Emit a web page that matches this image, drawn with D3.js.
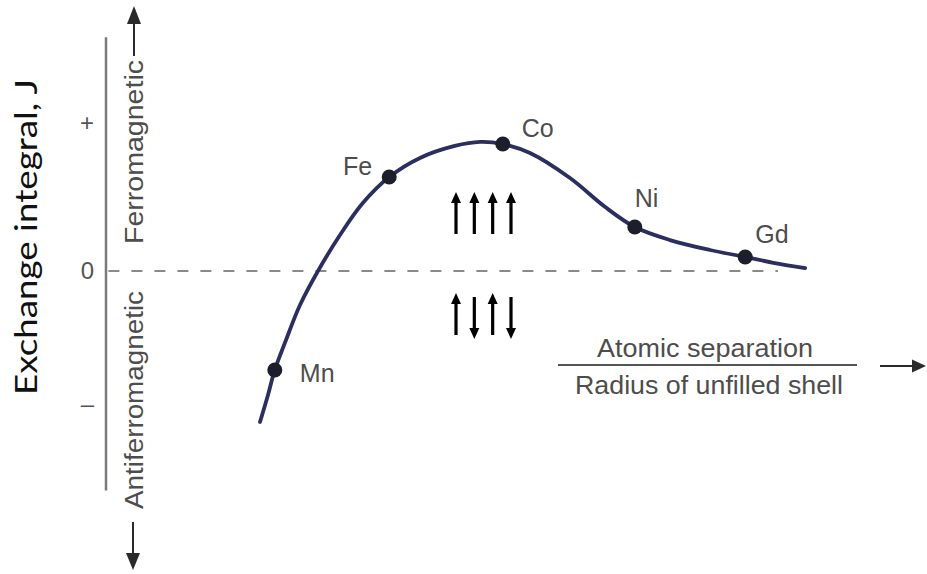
<!DOCTYPE html>
<html>
<head>
<meta charset="utf-8">
<script src="https://cdn.jsdelivr.net/npm/d3@7"></script>
<style>
  html, body { margin: 0; padding: 0; background: #fff; }
  svg { display: block; }
</style>
</head>
<body>
<div id="chart"></div>
<script>
// element markers along the curve (x = relative separation units, J = exchange integral)
const elements = ['Mn', 'Fe', 'Co', 'Ni', 'Gd'];
const elementSep = [21.1, 35.4, 49.6, 66.1, 79.9];
const elementJ = [-0.744, 0.635, 0.858, 0.297, 0.095];

// the Bethe-Slater curve
const curveSep = [19.25, 20.25, 21.1, 22.5, 24.25, 26.5, 29.25, 32.1, 35.4, 39.25, 43.6, 46.75,
                  49.6, 53, 58, 62.4, 66.1, 70.5, 75.5, 79.9, 83.6, 87.4];
const curveJ = [-1.135, -0.932, -0.744, -0.519, -0.256, 0, 0.243, 0.459, 0.635, 0.764, 0.845, 0.872,
                0.858, 0.797, 0.628, 0.432, 0.297, 0.209, 0.142, 0.095, 0.054, 0.020];

// y tick labels
const yTickValues = [1, 0, -1];
const yTickLabels = ['+', '0', '\u2013'];

// spin pictures: +1 up, -1 down
const spinsParallel = [1, 1, 1, 1];
const spinsAnti = [1, -1, 1, -1];

const svgWidth = 927,
      svgHeight = 574;

const svg = d3.select('#chart')
              .append('svg')
              .attr('width', svgWidth)
              .attr('height', svgHeight);

const x = d3.scaleLinear()
            .domain([0, 100])
            .range([106, 906]);

// J axis is not quite symmetric in the picture
const y = d3.scaleLinear()
            .domain([-1, 0, 1])
            .range([404, 271, 123]);

const textColor = '#4d4d4d';
const labelFont = '"Liberation Sans", Arial, Helvetica, sans-serif';

// dashed zero line
svg.append('line')
   .attr('x1', x(0.3))
   .attr('x2', x(84))
   .attr('y1', y(0))
   .attr('y2', y(0))
   .attr('stroke', '#8a8a8a')
   .attr('stroke-width', 2.2)
   .attr('stroke-dasharray', '11,12');

// y axis: labels only, the long line drawn by hand
const yAxis = d3.axisLeft(y)
                .tickValues(yTickValues)
                .tickFormat((d, i) => yTickLabels[i])
                .tickSize(0)
                .tickPadding(12);

const gy = svg.append('g')
              .attr('transform', `translate(${x(0)},0)`)
              .call(yAxis);
gy.select('.domain').remove();
gy.selectAll('text')
  .attr('fill', '#555')
  .style('font-family', labelFont)
  .style('font-size', '24px');

svg.append('line')
   .attr('x1', x(0))
   .attr('x2', x(0))
   .attr('y1', y(1.58))
   .attr('y2', y(-1.65))
   .attr('stroke', '#7a7a7a')
   .attr('stroke-width', 2.5);

// Ferromagnetic / Antiferromagnetic labels with arrows
const sideX = 143;
svg.append('text')
   .attr('transform', `translate(${sideX},152) rotate(-90)`)
   .attr('text-anchor', 'middle')
   .attr('textLength', 184)
   .attr('lengthAdjust', 'spacingAndGlyphs')
   .attr('fill', textColor)
   .style('font-family', labelFont)
   .style('font-size', '25px')
   .text('Ferromagnetic');

svg.append('text')
   .attr('transform', `translate(${sideX},400) rotate(-90)`)
   .attr('text-anchor', 'middle')
   .attr('textLength', 218)
   .attr('lengthAdjust', 'spacingAndGlyphs')
   .attr('fill', textColor)
   .style('font-family', labelFont)
   .style('font-size', '25px')
   .text('Antiferromagnetic');

const arrowColor = '#2a2a2a';
const ax = 134;
svg.append('line')
   .attr('x1', ax).attr('x2', ax)
   .attr('y1', 56).attr('y2', 22)
   .attr('stroke', arrowColor).attr('stroke-width', 2);
svg.append('path')
   .attr('d', `M${ax},6 L${ax - 7},24 L${ax + 7},24 Z`)
   .attr('fill', arrowColor);

svg.append('line')
   .attr('x1', ax - 1).attr('x2', ax - 1)
   .attr('y1', 522).attr('y2', 556)
   .attr('stroke', arrowColor).attr('stroke-width', 2);
svg.append('path')
   .attr('d', `M${ax - 1},570 L${ax - 8},553 L${ax + 6},553 Z`)
   .attr('fill', arrowColor);

// main y title
svg.append('text')
   .attr('transform', 'translate(37,237) rotate(-90)')
   .attr('text-anchor', 'middle')
   .attr('textLength', 316)
   .attr('lengthAdjust', 'spacingAndGlyphs')
   .attr('fill', '#111')
   .style('font-family', 'Lato, "Open Sans", sans-serif')
   .style('font-size', '31px')
   .text('Exchange integral, J');

// curve
const curvePts = curveSep.map((s, i) => [s, curveJ[i]]);
const line = d3.line()
               .x(d => x(d[0]))
               .y(d => y(d[1]))
               .curve(d3.curveCatmullRom.alpha(0.5));

svg.append('path')
   .datum(curvePts)
   .attr('d', line)
   .attr('fill', 'none')
   .attr('stroke', '#2b2e5e')
   .attr('stroke-width', 3.8)
   .attr('stroke-linecap', 'round');

// element dots and names
const labelOffset = {
  Mn: [25, 12, 'start'],
  Fe: [-17, -2, 'end'],
  Co: [19, -7, 'start'],
  Ni: [0, -20, 'start'],
  Gd: [10, -14, 'start']
};

const el = svg.append('g')
              .selectAll('g')
              .data(elements.map((e, i) => ({ name: e, sep: elementSep[i], j: elementJ[i] })))
              .enter()
              .append('g')
              .attr('transform', d => `translate(${x(d.sep)},${y(d.j)})`);

el.append('circle')
  .attr('r', 7.5)
  .attr('fill', '#1c1e2c');

el.append('text')
  .attr('x', d => labelOffset[d.name][0])
  .attr('y', d => labelOffset[d.name][1])
  .attr('text-anchor', d => labelOffset[d.name][2])
  .attr('fill', textColor)
  .style('font-family', labelFont)
  .style('font-size', '25px')
  .text(d => d.name);

// spin arrows
const spinX = d3.scalePoint()
                .domain(d3.range(spinsParallel.length))
                .range([456, 511]);

function spinPath(len) {
  const h = len / 2, head = 11, w = 5;
  return `M0,${-h} L${w},${-h + head} L1.6,${-h + head} L1.6,${h} L-1.6,${h} L-1.6,${-h + head} L${-w},${-h + head} Z`;
}

function drawSpins(spins, cy) {
  svg.append('g')
     .selectAll('path')
     .data(spins)
     .enter()
     .append('path')
     .attr('d', spinPath(42))
     .attr('transform', (d, i) => `translate(${spinX(i)},${cy + (d > 0 ? 0 : 4)}) scale(1,${d})`)
     .attr('fill', '#000');
}

drawSpins(spinsParallel, 213);
drawSpins(spinsAnti, 314);

// x label as fraction with arrow
const fracCx = 708;
svg.append('text')
   .attr('x', fracCx - 3)
   .attr('y', 357)
   .attr('text-anchor', 'middle')
   .attr('textLength', 216)
   .attr('lengthAdjust', 'spacingAndGlyphs')
   .attr('fill', textColor)
   .style('font-family', labelFont)
   .style('font-size', '25px')
   .text('Atomic separation');

svg.append('line')
   .attr('x1', 558).attr('x2', 857)
   .attr('y1', 365).attr('y2', 365)
   .attr('stroke', '#555').attr('stroke-width', 2);

svg.append('text')
   .attr('x', fracCx + 1)
   .attr('y', 394)
   .attr('text-anchor', 'middle')
   .attr('textLength', 268)
   .attr('lengthAdjust', 'spacingAndGlyphs')
   .attr('fill', textColor)
   .style('font-family', labelFont)
   .style('font-size', '25px')
   .text('Radius of unfilled shell');

svg.append('line')
   .attr('x1', 880).attr('x2', 914)
   .attr('y1', 366).attr('y2', 366)
   .attr('stroke', arrowColor).attr('stroke-width', 2);
svg.append('path')
   .attr('d', 'M926,366 L912,359.5 L912,372.5 Z')
   .attr('fill', arrowColor);
</script>
</body>
</html>
